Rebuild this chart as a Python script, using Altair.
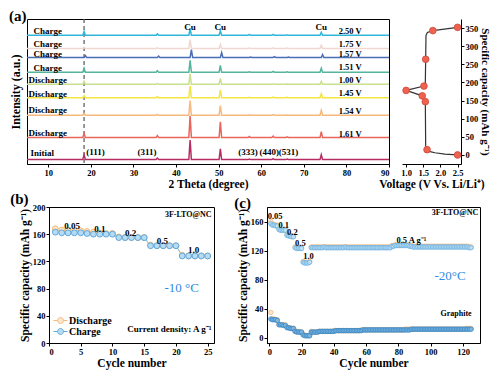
import altair as alt
import pandas as pd

FONT = "Liberation Serif"

# ---------------- (a) in-situ XRD ----------------
PEAK_POS = [18.4, 35.6, 43.3, 50.4, 57.2, 62.8, 66.1, 74.1]
TRACE_ID = ["Initial", "1.61 V", "1.54 V", "1.45 V", "1.00 V", "1.51 V", "1.57 V", "1.75 V", "2.50 V"]
TRACE_STATE = ["Initial", "Discharge", "Discharge", "Discharge", "Discharge",
               "Charge", "Charge", "Charge", "Charge"]
TRACE_BASE = [4.5, 27.0, 49.7, 67.7, 81.3, 93.7, 108.7, 118.0, 131.3]
TRACE_SHIFT = [0, 0, 0, 0, 0, 0, 0.3, 0, 0]
PEAK_HEIGHT = [
    [5.0, 1.5, 20.0, 11.0, 0.6, 1.0, 0.5, 5.0],
    [4.0, 2.0, 22.0, 16.0, 1.0, 1.5, 0.8, 6.0],
    [2.0, 1.0, 15.0, 10.0, 0.5, 0.8, 0.4, 5.0],
    [2.0, 1.0, 12.0, 8.0, 0.4, 0.6, 0.3, 4.0],
    [3.0, 0.8, 11.0, 6.0, 0.4, 0.6, 0.3, 3.0],
    [4.0, 1.5, 12.0, 7.0, 0.5, 0.8, 0.4, 4.0],
    [2.0, 1.5, 8.0, 5.0, 0.5, 0.8, 0.4, 3.0],
    [1.0, 0.5, 9.0, 4.0, 0.3, 0.5, 0.3, 3.0],
    [4.0, 1.5, 7.0, 5.0, 1.0, 1.0, 0.5, 3.0],
]
TRACE_COLORS = ["#b72d63", "#e9645a", "#f8b87c", "#f3e544", "#c8e08d",
                "#55b49c", "#4b6db6", "#f1d7d2", "#2fb6da"]
STATE_X = [8.6, 9.9, 9.9, 9.9, 9.9, 9.9, 9.9, 9.9, 9.9]
STATE_Y = [11.0, 32.0, 54.7, 71.3, 86.0, 97.7, 112.0, 122.7, 135.3]
VOLT_LABELS = ["1.61 V", "1.54 V", "1.45 V", "1.00 V", "1.51 V", "1.57 V", "1.75 V", "2.50 V"]
VOLT_Y = [30.3, 53.7, 72.0, 85.3, 98.7, 112.7, 122.7, 136.0]
VOLT_X = 80.9
CU_X = [43.3, 50.4, 74.1]
CU_Y = 140.3
HKL = ["(111)", "(311)", "(333)", "(440)", "(531)"]
HKL_X = [21.1, 33.2, 56.9, 61.9, 66.4]
HKL_Y = 12.5
DASH_X = [18.4]

# voltage profile (right of a)
V_LINE = [2.50, 2.13, 1.84, 1.70, 1.61, 1.57, 1.56, 1.47, 1.00, 1.52, 1.56, 1.57, 1.58, 1.62, 1.78, 2.50]
C_LINE = [0, 2, 6, 9, 14.6, 25, 147, 163, 178, 190, 200, 264, 330, 338, 343, 352]
V_DOT = [2.50, 1.61, 1.56, 1.47, 1.00, 1.52, 1.57, 1.78, 2.50]
C_DOT = [0, 14.6, 147, 163, 178, 190, 264, 343, 352]

# ---------------- (b) rate at -10 C ----------------
B_CYCLE = list(range(1, 26))
B_CHARGE = [163, 162, 162, 162, 162, 161, 160, 160, 160, 160,
            155, 155, 155, 155, 155, 143, 143, 143, 143, 143,
            128, 128, 128, 128, 128]
B_DISCHARGE = [168, 166, 166, 165, 165, 164, 163, 162, 161, 161,
               156, 155, 155, 155, 155, 144, 143, 143, 143, 143,
               129, 128, 128, 128, 128]
B_RATE_TXT = ["0.05", "0.1", "0.2", "0.5", "1.0"]
B_RATE_X = [3.66, 8.0, 12.85, 17.85, 22.8]
B_RATE_Y = [171.7, 168.0, 162.5, 149.3, 136.2]

# ---------------- (c) rate + cycling at -20 C ----------------
C_CYCLE = list(range(1, 126))
LTO_CHARGE = [157, 155, 155, 154, 154, 149, 148, 148, 148, 148,
              141, 140, 140, 139, 139, 124, 123, 123, 123, 123,
              104, 103, 103, 103, 104,
              124, 124, 124, 124, 124, 124, 124, 124, 125, 124, 124, 124, 124, 124, 124,
              124, 124, 124, 124, 124, 124, 125, 124, 124, 124, 124, 124, 124, 124, 124,
              124, 124, 124, 124, 124, 124, 124, 124, 124, 124, 124, 124, 124, 124, 124,
              124, 124, 124, 124, 124, 126, 126, 127, 127, 127, 127, 127, 127, 127, 127,
              127, 126, 126, 125, 125, 125, 125, 125, 125, 125, 125, 125, 125, 125, 125,
              125, 125, 125, 125, 125, 125, 125, 125, 125, 125, 125, 125, 125, 125, 125,
              125, 125, 125, 125, 125, 125, 125, 125, 124, 124]
LTO_DISCHARGE = [160, 156, 156, 155, 155, 150, 149, 149, 149, 149,
                 142, 141, 141, 140, 140, 125, 124, 124, 124, 124,
                 105, 104, 104, 104, 105,
                 125, 125, 125, 125, 125, 125, 125, 125, 125, 125, 125, 125, 125, 125, 125,
                 125, 125, 125, 125, 125, 125, 125, 125, 125, 125, 125, 125, 125, 125, 125,
                 125, 125, 125, 125, 125, 125, 125, 125, 125, 125, 125, 125, 125, 125, 125,
                 125, 125, 125, 125, 125, 127, 127, 128, 128, 128, 128, 128, 128, 128, 128,
                 128, 127, 127, 126, 126, 126, 126, 126, 126, 126, 126, 126, 126, 126, 126,
                 126, 126, 126, 126, 126, 126, 126, 126, 126, 126, 126, 126, 126, 126, 126,
                 126, 126, 126, 126, 126, 126, 126, 126, 125, 125]
GR_CHARGE = [26, 25, 25, 25, 24, 18, 18, 18, 17, 17,
             14, 14, 13, 13, 13, 9, 8, 8, 8, 8,
             4, 3, 3, 3, 3,
             8, 8, 8, 8, 8, 9, 9, 9, 9, 9, 9, 9, 9, 9, 9,
             10, 10, 10, 10, 10, 10, 10, 10, 10, 10, 10, 10, 10, 10, 10,
             10, 10, 11, 11, 11, 11, 11, 11, 11, 11, 11, 11, 11, 11, 11,
             11, 11, 11, 11, 11, 11, 11, 11, 11, 11, 11, 11, 11, 11, 11,
             11, 11, 12, 12, 12, 12, 12, 12, 12, 12, 12, 12, 12, 12, 12,
             12, 12, 12, 12, 12, 12, 12, 12, 12, 12, 12, 12, 12, 12, 12,
             12, 12, 12, 12, 12, 12, 12, 12, 12, 12]
GR_DISCHARGE = [35, 26, 26, 25, 25, 19, 18, 18, 18, 18,
                15, 14, 14, 13, 13, 9, 9, 9, 8, 8,
                5, 4, 3, 3, 3,
                9, 8, 8, 8, 8, 9, 9, 9, 9, 9, 9, 9, 9, 9, 10,
                10, 10, 10, 10, 10, 10, 10, 10, 10, 10, 10, 10, 10, 10, 10,
                10, 11, 11, 11, 11, 11, 11, 11, 11, 11, 11, 11, 11, 11, 11,
                11, 11, 11, 11, 11, 11, 11, 11, 11, 11, 11, 11, 11, 12, 12,
                12, 12, 12, 12, 12, 12, 12, 12, 12, 12, 12, 12, 12, 12, 12,
                12, 12, 12, 12, 12, 12, 12, 12, 12, 12, 12, 12, 12, 12, 12,
                12, 12, 12, 12, 12, 12, 13, 13, 13, 13]
C_RATE_TXT = ["0.05", "0.1", "0.2", "0.5", "1.0", "0.5 A g\u207b\u00b9"]
C_RATE_X = [3.6, 9.0, 14.3, 19.3, 24.3, 88.0]
C_RATE_Y = [167.0, 155.4, 145.0, 130.0, 112.0, 135.0]

BLUE_TXT = "#2f8ae5"
CAP_TITLE = "Specific capacity (mAh g\u207b\u00b9)"
ORANGE_S, ORANGE_F, ORANGE_L = "#f2b978", "#fde6cc", "#f5c896"
BLUE_S, BLUE_F, BLUE_L = "#5fa9dc", "#b7dbf3", "#7fbde6"
GRAPH_S, GRAPH_F = "#3a86c4", "#7db7e3"

H1 = 145  # top row plot height
H2 = 136  # bottom row plot height

# ======== panel (a) main ========
rows = []
for i, name in enumerate(TRACE_ID):
    b = TRACE_BASE[i]
    pts = [(5.0, b), (90.0, b)]
    for p, h in zip(PEAK_POS, PEAK_HEIGHT[i]):
        c = p + TRACE_SHIFT[i]
        pts += [(c - 0.3, b), (c, b + h), (c + 0.3, b)]
    for tt, inten in sorted(pts):
        rows.append({"trace": name, "tt": tt, "I": inten})
xrd = pd.DataFrame(rows)

xa = alt.X("tt:Q", scale=alt.Scale(domain=[5, 90], nice=False),
           axis=alt.Axis(values=[10, 20, 30, 40, 50, 60, 70, 80, 90], title="2 Theta (degree)",
                         titleFontSize=11.5))
ya = alt.Y("I:Q", scale=alt.Scale(domain=[0, 148], nice=False),
           axis=alt.Axis(title="Intensity (a.u.)", labels=False, ticks=False, domain=False,
                         titleFontSize=12, titlePadding=5))

xrd_lines = alt.Chart(xrd).mark_line(strokeWidth=1.5).encode(
    x=xa, y=ya, detail="trace:N",
    color=alt.Color("trace:N", scale=alt.Scale(domain=TRACE_ID, range=TRACE_COLORS), legend=None),
)
dash = alt.Chart(pd.DataFrame({"tt": DASH_X})).mark_rule(
    strokeDash=[4, 3], color="#555555", strokeWidth=1.2).encode(x=xa)


def txt(df, x, y, size, **kw):
    return alt.Chart(df).mark_text(fontSize=size, fontWeight=kw.pop("weight", "bold"), font=FONT,
                                   baseline="middle", **kw).encode(x=x, y=y, text="label:N")


state_txt = txt(pd.DataFrame({"tt": STATE_X, "I": STATE_Y, "label": TRACE_STATE}), xa, ya, 9)
volt_txt = txt(pd.DataFrame({"tt": [VOLT_X] * len(VOLT_LABELS), "I": VOLT_Y, "label": VOLT_LABELS}),
               xa, ya, 8.5)
cu_txt = txt(pd.DataFrame({"tt": CU_X, "I": [CU_Y] * len(CU_X), "label": ["Cu"] * len(CU_X)}), xa, ya, 9)
hkl_txt = txt(pd.DataFrame({"tt": HKL_X, "I": [HKL_Y] * len(HKL_X), "label": HKL}), xa, ya, 9)

a_main = alt.layer(dash, xrd_lines, state_txt, volt_txt, cu_txt, hkl_txt).properties(
    width=362, height=H1,
    title=alt.TitleParams("(a)", anchor="start", fontSize=15, offset=-6),
)

# ======== panel (a) right ========
vline_df = pd.DataFrame({"V": V_LINE, "cap": C_LINE, "k": list(range(len(V_LINE)))})
vdot_df = pd.DataFrame({"V": V_DOT, "cap": C_DOT})
xv = alt.X("V:Q", scale=alt.Scale(domain=[0.88, 2.6], nice=False),
           axis=alt.Axis(values=[1.0, 1.5, 2.0, 2.5], format=".1f",
                         title="Voltage (V Vs. Li/Li\u207a)", titleFontSize=11.5))
yv = alt.Y("cap:Q", scale=alt.Scale(domain=[-25, 375], nice=False),
           axis=alt.Axis(orient="right", values=[0, 50, 100, 150, 200, 250, 300, 350],
                         title=CAP_TITLE, titleFontSize=11))
v_line = alt.Chart(vline_df).mark_line(color="#333333", strokeWidth=1.2).encode(
    x=xv, y=yv, order="k:Q")
v_dot = alt.Chart(vdot_df).mark_circle(size=45, color="#f0614f", stroke="#c94a3c",
                                       strokeWidth=0.8, opacity=1).encode(x=xv, y=yv)
a_right = alt.layer(v_line, v_dot).properties(
    width=59, height=H1, view=alt.ViewBackground(stroke=None))

row1 = alt.hconcat(a_main, a_right, spacing=13, bounds="flush")

# ======== panel (b) ========
SER = ["Discharge", "Charge"]
LEG_PATH = "M-1.4,0L-0.6,0M0.6,0L1.4,0M-0.6,0A0.6,0.6,0,1,0,0.6,0A0.6,0.6,0,1,0,-0.6,0Z"

dfb = pd.DataFrame({"cycle": B_CYCLE + B_CYCLE, "cap": B_DISCHARGE + B_CHARGE,
                    "series": ["Discharge"] * 25 + ["Charge"] * 25})
dfb_d = pd.DataFrame({"cycle": B_CYCLE, "cap": B_DISCHARGE})
dfb_c = pd.DataFrame({"cycle": B_CYCLE, "cap": B_CHARGE})
xb = alt.X("cycle:Q", scale=alt.Scale(domain=[0, 26], nice=False),
           axis=alt.Axis(values=[0, 5, 10, 15, 20, 25], title="Cycle number", titleFontSize=11.5))
yb = alt.Y("cap:Q", scale=alt.Scale(domain=[0, 200], nice=False),
           axis=alt.Axis(values=[0, 40, 80, 120, 160, 200], title=CAP_TITLE, titleFontSize=11.5))
leg = alt.Legend(title=None, orient="none", legendX=28, legendY=296, symbolType=LEG_PATH,
                 symbolSize=100, labelFontSize=10, labelFont=FONT, labelFontWeight="bold",
                 labelOffset=3, rowPadding=0, padding=0, symbolStrokeWidth=1)
b_line_d = alt.Chart(dfb_d).mark_line(strokeWidth=1, color=ORANGE_L).encode(x=xb, y=yb)
b_line_c = alt.Chart(dfb_c).mark_line(strokeWidth=1, color=BLUE_L).encode(x=xb, y=yb)
b_pts = alt.Chart(dfb).mark_circle(size=34, strokeWidth=1, opacity=1).encode(
    x=xb, y=yb,
    stroke=alt.Stroke("series:N", scale=alt.Scale(domain=SER, range=[ORANGE_S, BLUE_S]), legend=leg),
    fill=alt.Fill("series:N", scale=alt.Scale(domain=SER, range=[ORANGE_F, BLUE_F]), legend=leg),
)
b_rate = txt(pd.DataFrame({"cycle": B_RATE_X, "cap": B_RATE_Y, "label": B_RATE_TXT}), xb, yb, 9)
b_name = txt(pd.DataFrame({"cycle": [25.6], "cap": [188.8], "label": ["3F-LTO@NC"]}), xb, yb, 8,
             align="right")
b_temp = txt(pd.DataFrame({"cycle": [20.9], "cap": [81.0], "label": ["-10 \u00b0C"]}), xb, yb, 13,
             weight="normal", color=BLUE_TXT)
b_cd = txt(pd.DataFrame({"cycle": [25.6], "cap": [20.0], "label": ["Current density: A g\u207b\u00b9"]}),
           xb, yb, 9, align="right")
panel_b = alt.layer(b_line_d, b_line_c, b_pts, b_rate, b_name, b_temp, b_cd).properties(
    width=165, height=H2,
    title=alt.TitleParams("(b)", anchor="start", fontSize=15, offset=-4, dx=-9),
)

# ======== panel (c) ========
dfc_d = pd.DataFrame({"cycle": C_CYCLE * 2, "cap": LTO_DISCHARGE + GR_DISCHARGE})
dfc_lc = pd.DataFrame({"cycle": C_CYCLE, "cap": LTO_CHARGE})
dfc_gc = pd.DataFrame({"cycle": C_CYCLE, "cap": GR_CHARGE})
xc = alt.X("cycle:Q", scale=alt.Scale(domain=[-1.4, 130.5], nice=False),
           axis=alt.Axis(values=[0, 20, 40, 60, 80, 100, 120], title="Cycle number", titleFontSize=11.5))
yc = alt.Y("cap:Q", scale=alt.Scale(domain=[-7, 180], nice=False),
           axis=alt.Axis(values=[0, 40, 80, 120, 160], title=CAP_TITLE, titleFontSize=11.5))
c_d = alt.Chart(dfc_d).mark_circle(size=20, strokeWidth=0.8, opacity=1, fill=ORANGE_F,
                                   stroke=ORANGE_S).encode(x=xc, y=yc)
c_lc = alt.Chart(dfc_lc).mark_circle(size=20, strokeWidth=0.8, opacity=1, fill="#bde0f5",
                                     stroke="#6cb0df").encode(x=xc, y=yc)
c_gc = alt.Chart(dfc_gc).mark_circle(size=20, strokeWidth=0.8, opacity=1, fill=GRAPH_F,
                                     stroke=GRAPH_S).encode(x=xc, y=yc)
c_rate = txt(pd.DataFrame({"cycle": C_RATE_X, "cap": C_RATE_Y, "label": C_RATE_TXT}), xc, yc, 8.5)
c_name = txt(pd.DataFrame({"cycle": [115.0, 115.7], "cap": [172.4, 33.0],
                           "label": ["3F-LTO@NC", "Graphite"]}), xc, yc, 8)
c_temp = txt(pd.DataFrame({"cycle": [112.0], "cap": [84.6], "label": ["-20\u00b0C"]}), xc, yc, 13,
             weight="normal", color=BLUE_TXT)
panel_c = alt.layer(c_d, c_lc, c_gc, c_rate, c_name, c_temp).properties(
    width=213, height=H2,
    title=alt.TitleParams("(c)", anchor="start", fontSize=15, offset=-4, dx=-3),
)


def spacer(w):
    return alt.Chart(pd.DataFrame({"v": [0]})).mark_point(opacity=0).encode(
        x=alt.X("v:Q", axis=None), y=alt.Y("v:Q", axis=None)
    ).properties(width=w, height=H2, view=alt.ViewBackground(stroke=None))


row2 = alt.hconcat(spacer(22), panel_b, spacer(53), panel_c, spacing=0, bounds="flush")

chart = alt.ConcatChart(concat=[row1, row2], columns=1, align="none", spacing=0, padding=0).configure(
    font=FONT
).configure_view(
    stroke="black", strokeWidth=1
).configure_axis(
    grid=False, labelFont=FONT, titleFont=FONT, labelFontWeight="bold", titleFontWeight="bold",
    labelColor="black", titleColor="black", domainColor="black", tickColor="black",
    labelFontSize=8.5, titleFontSize=12, tickSize=3, labelPadding=1, titlePadding=2,
    minExtent=0, domainWidth=1, tickWidth=1,
).configure_title(font=FONT, fontWeight="bold", color="black", anchor="start")

chart.save("out.html", embed_options={"renderer": "svg", "actions": False})
